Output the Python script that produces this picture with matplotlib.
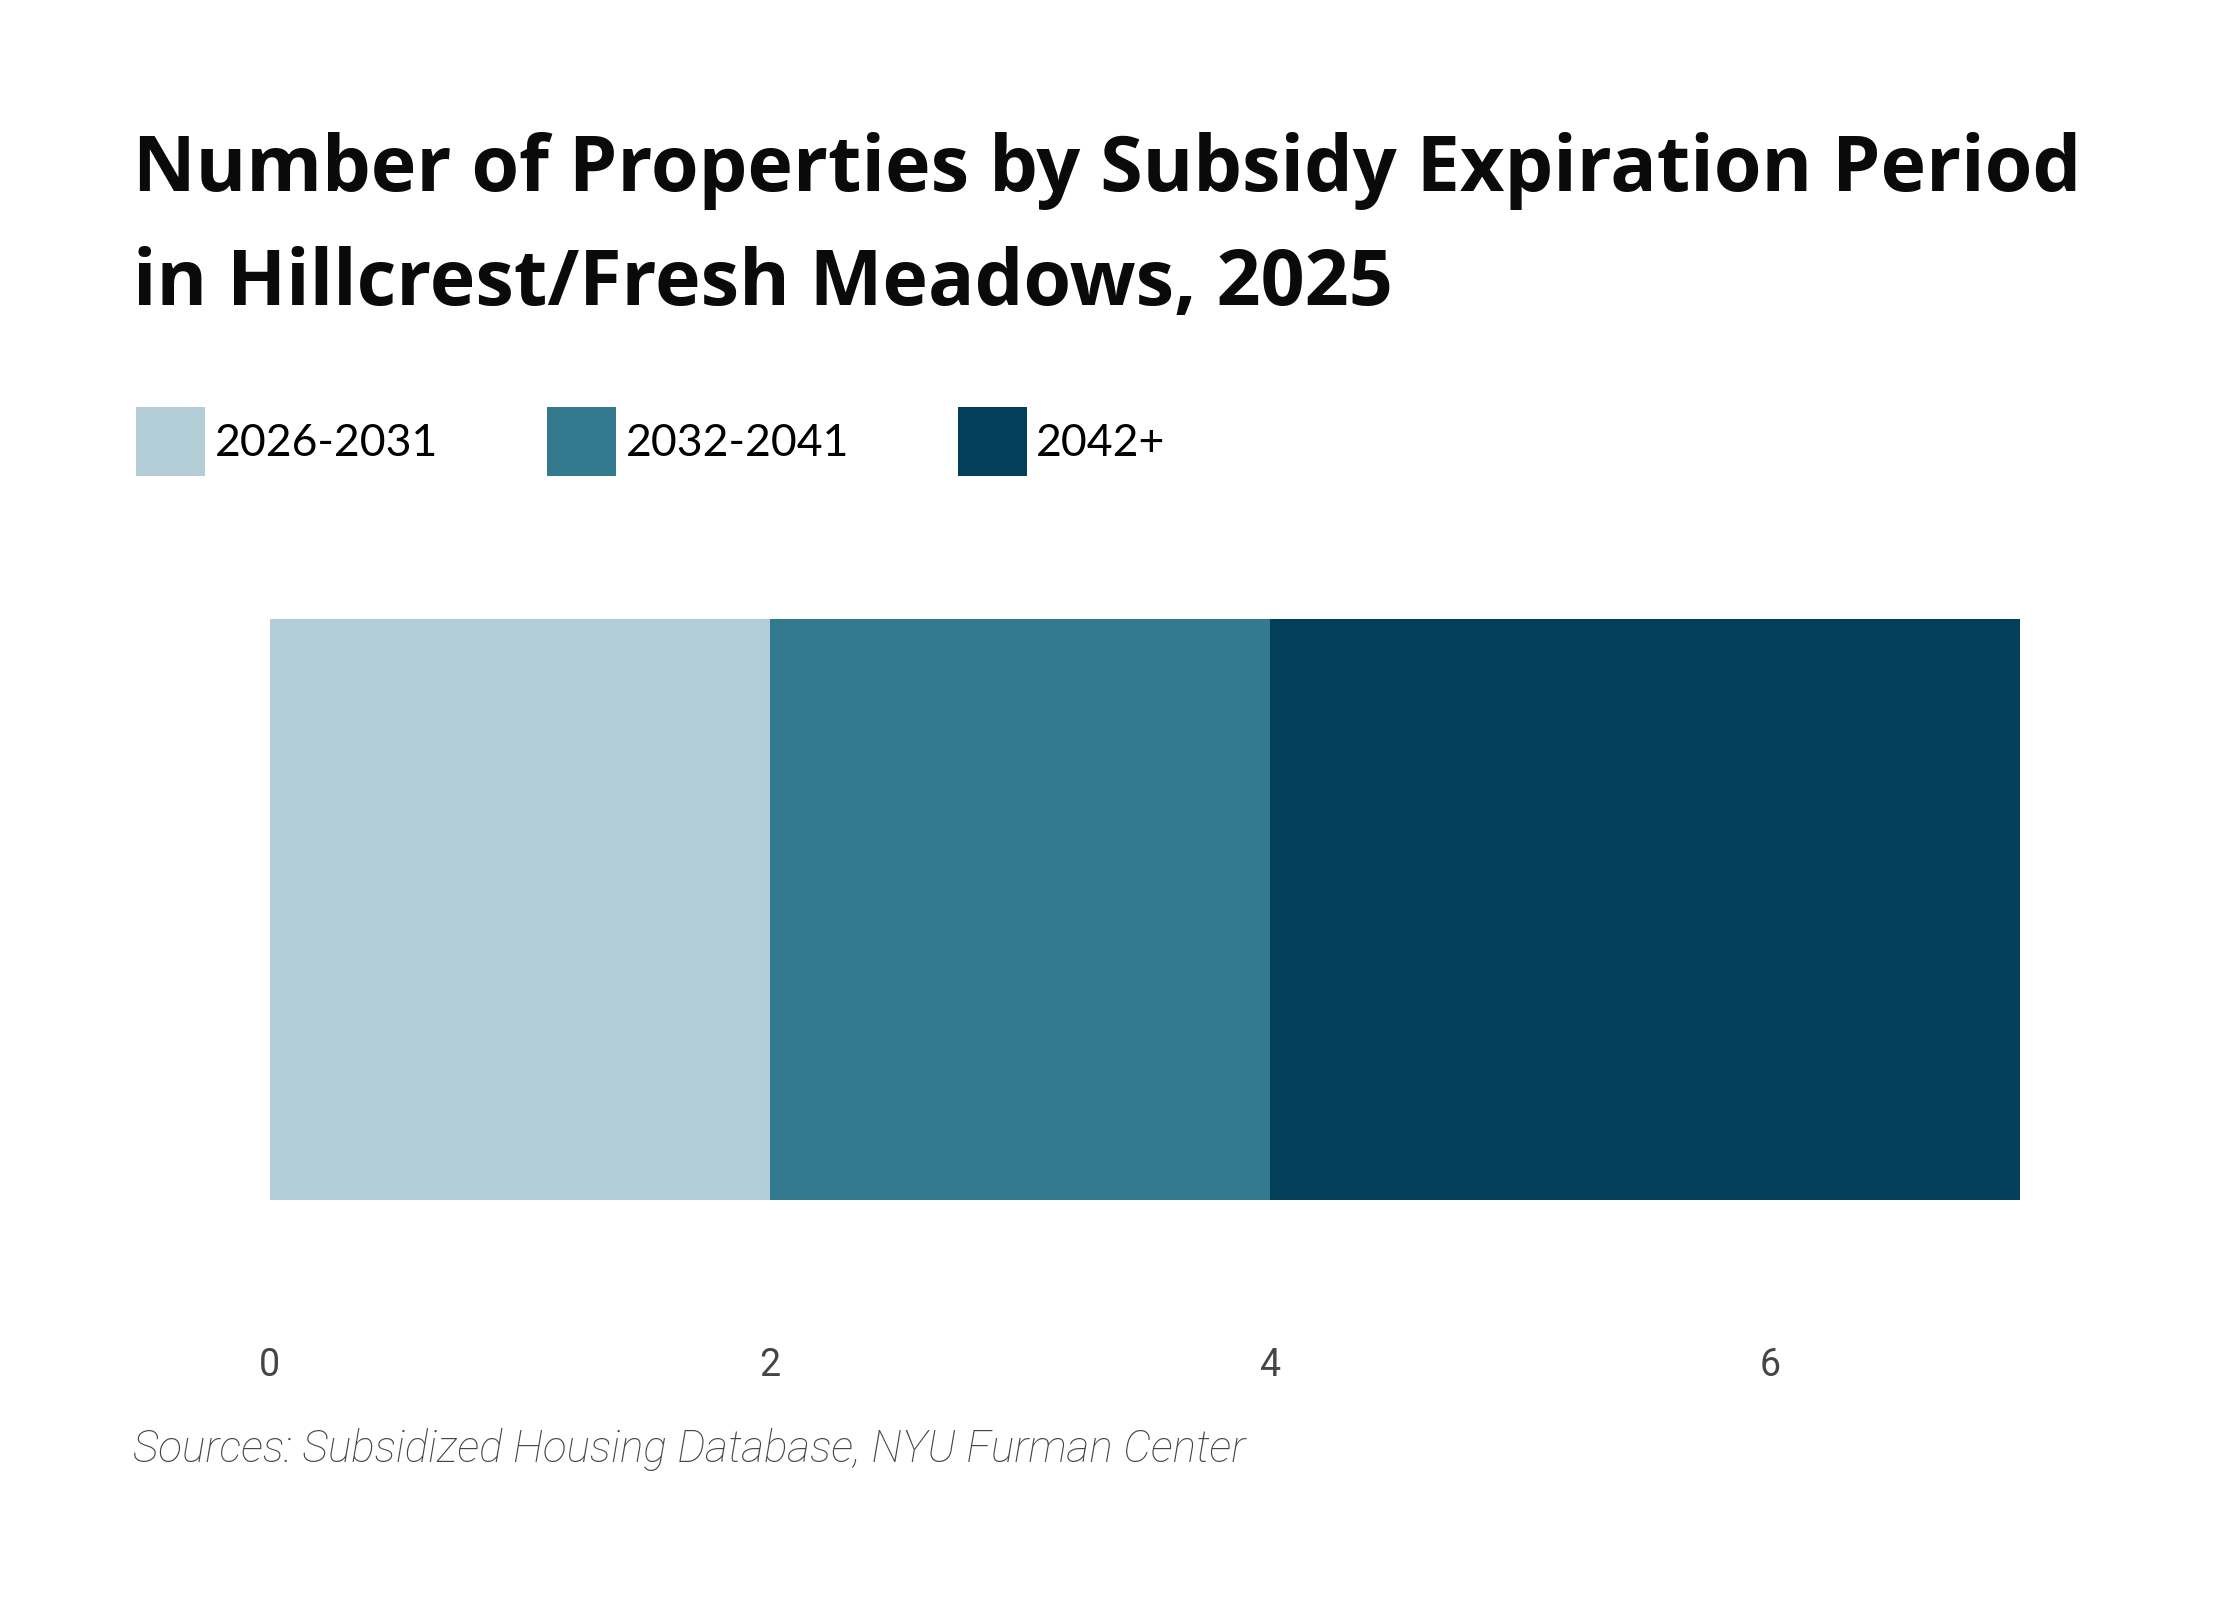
import matplotlib
matplotlib.use("Agg")
import matplotlib.pyplot as plt
from matplotlib.patches import Patch

# data
periods = ["2026-2031", "2032-2041", "2042+"]
counts = [2, 2, 3]
colors = ["#b3cdd6", "#347a8f", "#023f5a"]
xticks = [0, 2, 4, 6]

title = "Number of Properties by Subsidy Expiration Period\nin Hillcrest/Fresh Meadows, 2025"
source = "Sources: Subsidized Housing Database, NYU Furman Center"

fig = plt.figure(figsize=(22.4, 16), dpi=100)
fig.patch.set_facecolor("white")

# bar area: 270..2020 px wide, 619..1200 px tall
ax = fig.add_axes([0.1205, 0.25, 0.7813, 0.363])

left = 0
for name, val, col in zip(periods, counts, colors):
    ax.barh(0, val, left=left, height=1.0, color=col, label=name)
    left += val

ax.set_xlim(0, 7)
ax.set_ylim(-0.5, 0.5)
ax.set_xticks(xticks)
ax.set_xticklabels([str(t) for t in xticks], fontsize=27, color="#454545",
                   family="Roboto")
ax.tick_params(axis="x", length=0, pad=106)
ax.set_yticks([])
for s in ax.spines.values():
    s.set_visible(False)

# title (baseline of the second line)
fig.text(0.0595, 0.8095, title, ha="left", va="baseline", fontsize=55.5, fontweight="bold",
         family="Open Sans", color="#0a0a0a", linespacing=1.6)

# legend
handles = [Patch(facecolor=c, edgecolor="none") for c in colors]
leg = fig.legend(handles, periods, loc="center left", bbox_to_anchor=(0.0607, 0.724),
                 ncol=3, frameon=False, handlelength=1.55, handleheight=2.0,
                 handletextpad=0.22, columnspacing=2.45, borderpad=0, borderaxespad=0,
                 prop={"family": "Lato", "size": 32})

# source
fig.text(0.0592, 0.086, source, ha="left", va="baseline", fontsize=31.8, style="italic",
         fontweight="light", family="Roboto", color="#444444")

fig.savefig("out.png", dpi=100, facecolor="white")
